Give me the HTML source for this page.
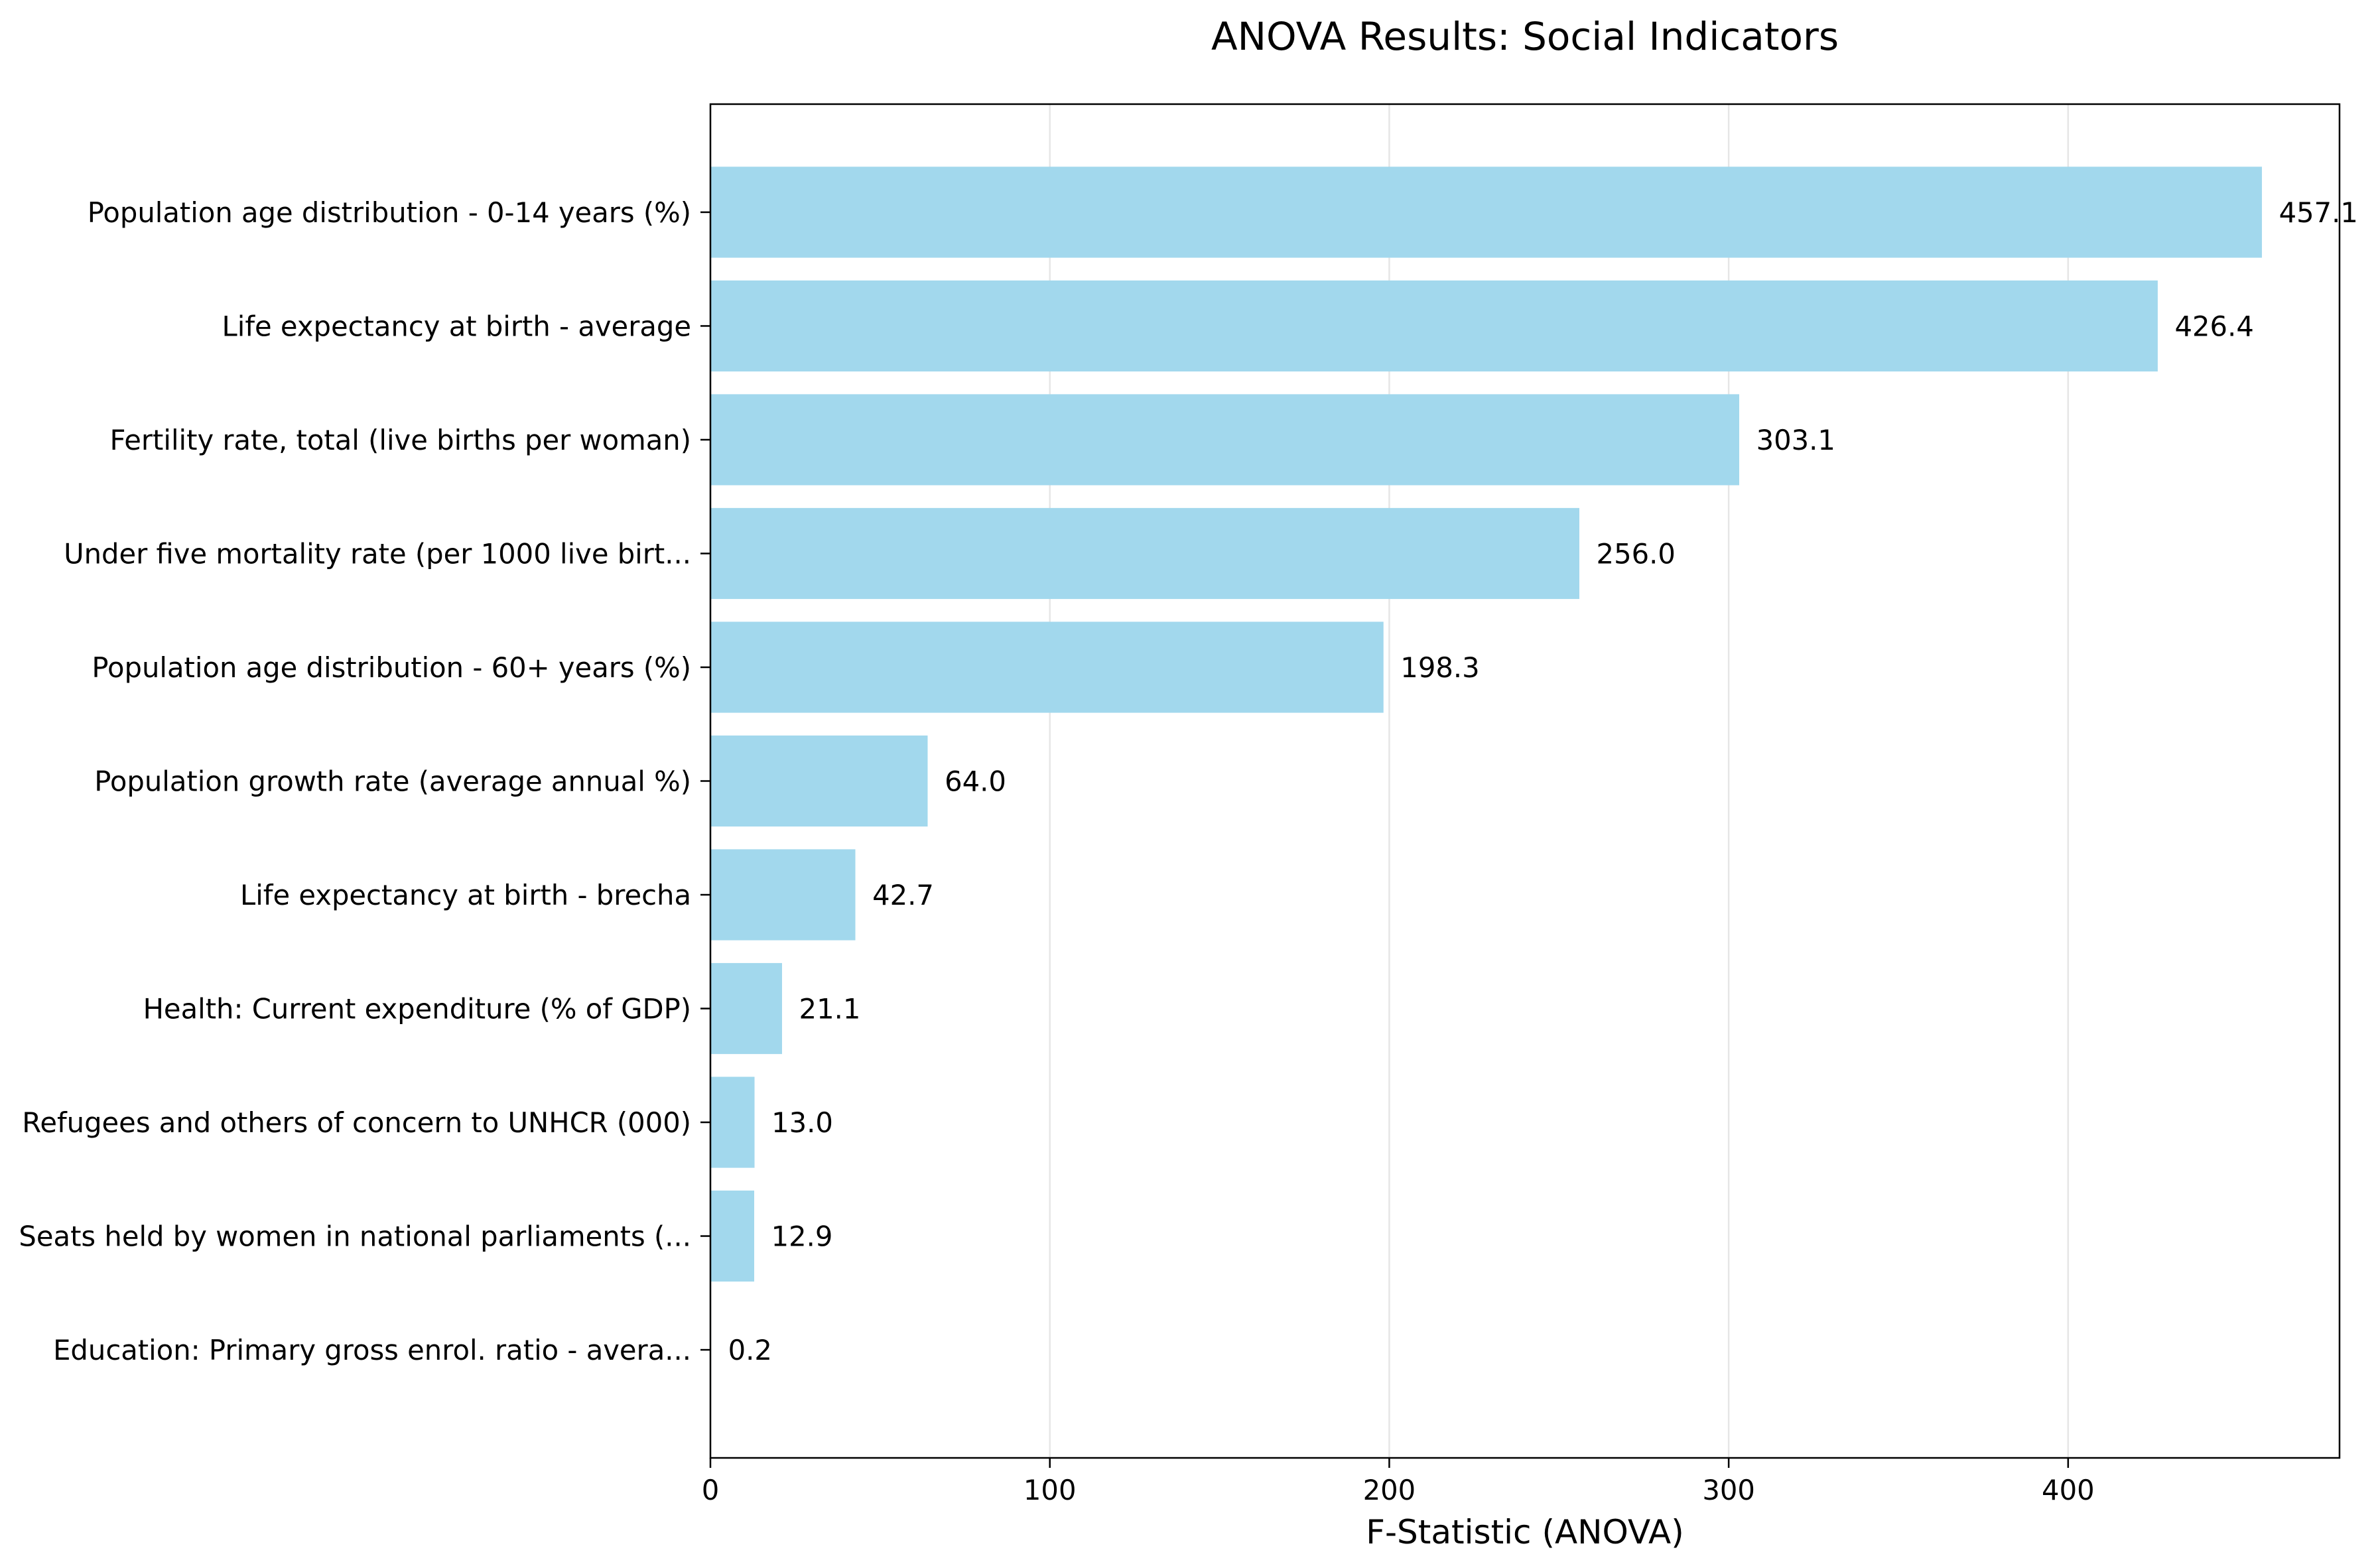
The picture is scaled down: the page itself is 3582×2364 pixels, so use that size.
<!DOCTYPE html>
<html><head><meta charset="utf-8">
<style>html,body{margin:0;padding:0;background:#fff}svg{display:block}text{font-family:"DejaVu Sans","Liberation Sans",sans-serif;fill:#000}</style>
</head><body>
<svg id="chart" width="3582" height="2364" viewBox="0 0 3582 2364" xmlns="http://www.w3.org/2000/svg">
<rect width="3582" height="2364" fill="#fff"/>
<text x="2299" y="75" font-size="58" text-anchor="middle">ANOVA Results: Social Indicators</text>
<g id="grid"></g>
<g id="bars"></g>
<g id="axes"></g>
<text x="2299" y="2327" font-size="50" text-anchor="middle">F-Statistic (ANOVA)</text>
</svg>
<script>
const categories = ["Population age distribution - 0-14 years (%)","Life expectancy at birth - average","Fertility rate, total (live births per woman)","Under five mortality rate (per 1000 live birt...","Population age distribution - 60+ years (%)","Population growth rate (average annual %)","Life expectancy at birth - brecha","Health: Current expenditure (% of GDP)","Refugees and others of concern to UNHCR (000)","Seats held by women in national parliaments (...","Education: Primary gross enrol. ratio - avera..."];
const fValues = [457.1,426.4,303.1,256.0,198.3,64.0,42.7,21.1,13.0,12.9,0.2];
const xTicks = [0,100,200,300,400];
const xMax = 479.96;

const L=1071,R=3527,T=157,B=2198;
const NS="http://www.w3.org/2000/svg";
const n=categories.length;
const xs=v=>L+(v/xMax)*(R-L);
const band=(B-T)/(n-1+1.9);
const yc=i=>T+0.95*band+i*band;
function mk(tag,attrs,parent){const e=document.createElementNS(NS,tag);for(const k in attrs)e.setAttribute(k,attrs[k]);parent.appendChild(e);return e;}
const grid=document.getElementById('grid'),bars=document.getElementById('bars'),axes=document.getElementById('axes');
xTicks.forEach(t=>{
  const g=mk('line',{x1:xs(t),x2:xs(t),y1:T,y2:B,stroke:'#e6e6e6','stroke-width':2.5},grid);
  
  
  const tk=mk('line',{x1:xs(t),x2:xs(t),y1:B,y2:B+15,stroke:'#000','stroke-width':2.5},axes);
  
  
  const lb=mk('text',{x:xs(t),y:B+63,'font-size':41.7,'text-anchor':'middle'},axes);
  lb.textContent=t;
  
  
});
categories.forEach((c,i)=>{
  const y=yc(i),h=band*0.8;
  const r=mk('rect',{x:L,y:y-h/2,width:xs(fValues[i])-L,height:h,fill:'#a2d8ed'},bars);
  
  
  const v=mk('text',{x:xs(fValues[i]+5),y:y+15,'font-size':41.7},bars);
  v.textContent=fValues[i].toFixed(1);
  
  
  const tk=mk('line',{x1:L-15,x2:L,y1:y,y2:y,stroke:'#000','stroke-width':2.5},axes);
  
  
  const lb=mk('text',{x:L-29,y:y+15,'font-size':41.7,'text-anchor':'end'},axes);
  lb.textContent=c;
  
  
});
const fr=mk('rect',{x:L,y:T,width:R-L,height:B-T,fill:'none',stroke:'#000','stroke-width':2.5},axes);


</script>
</body></html>
